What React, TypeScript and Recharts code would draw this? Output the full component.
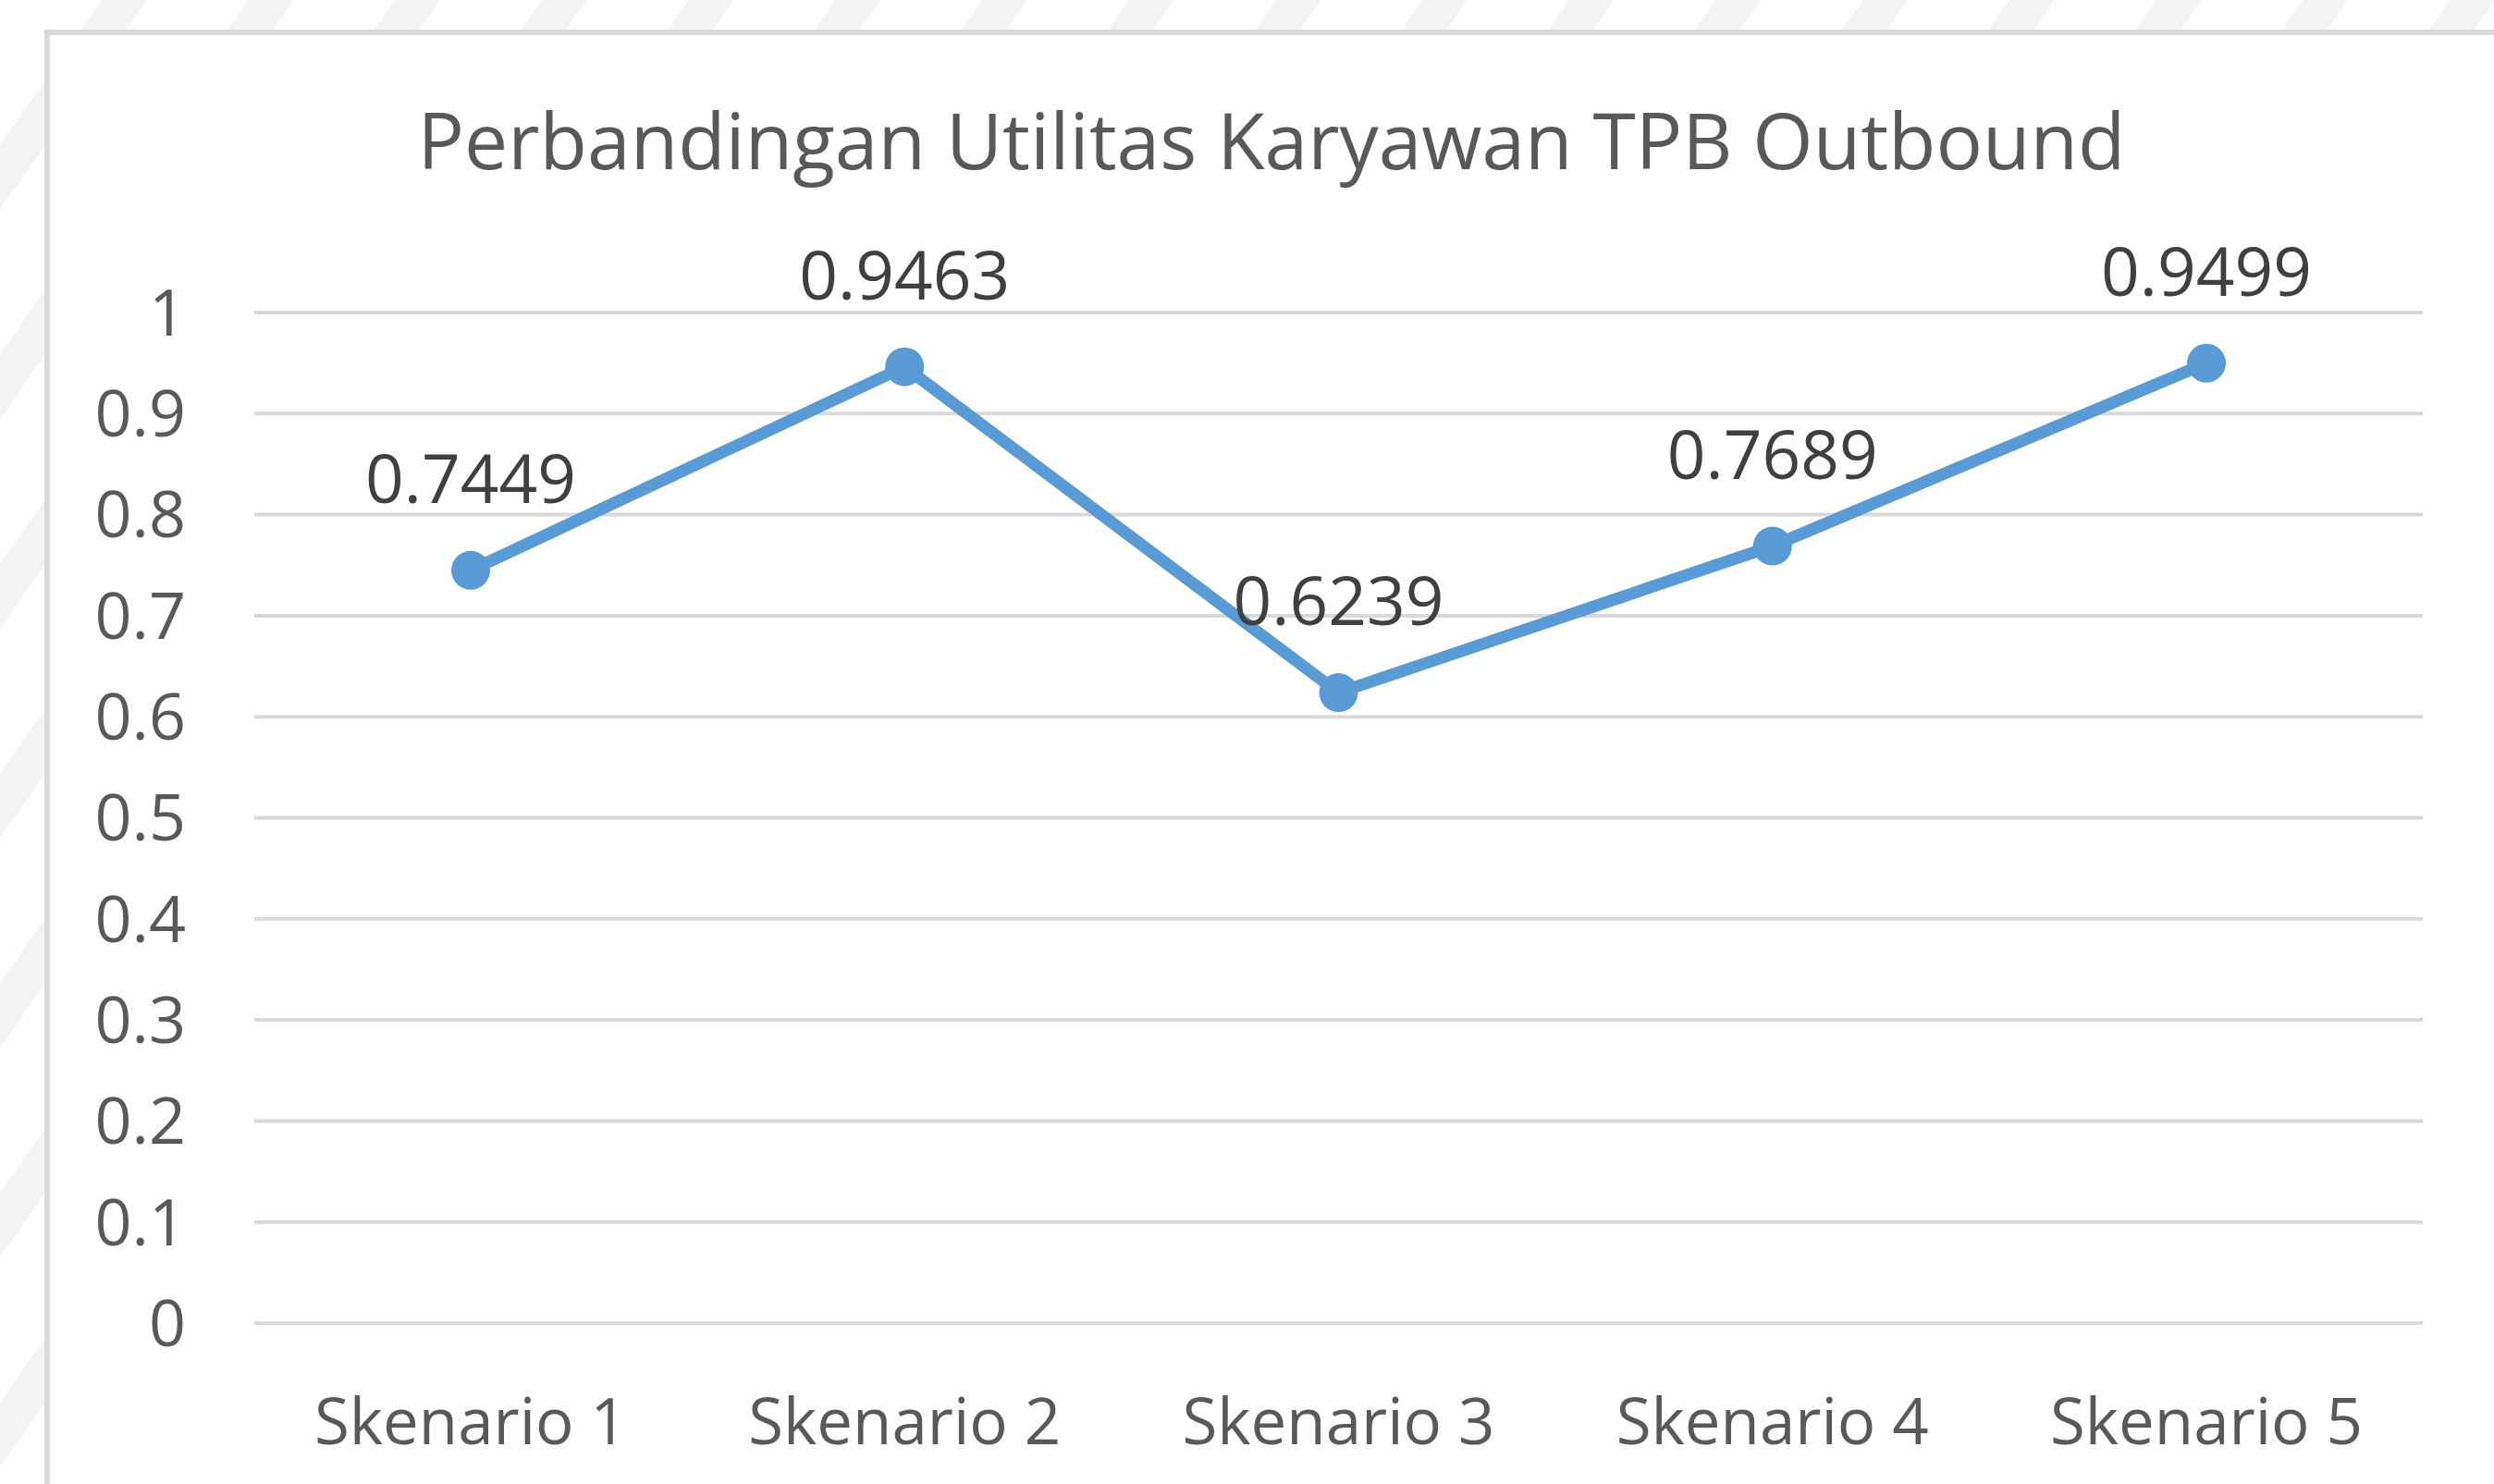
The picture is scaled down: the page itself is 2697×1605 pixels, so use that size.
import React from "react";
import {
  LineChart,
  Line,
  XAxis,
  YAxis,
  CartesianGrid,
  LabelList,
} from "recharts";

const categories = ["Skenario 1", "Skenario 2", "Skenario 3", "Skenario 4", "Skenario 5"];
const utilitas = [0.7449, 0.9463, 0.6239, 0.7689, 0.9499];
const yTicks = [0, 0.1, 0.2, 0.3, 0.4, 0.5, 0.6, 0.7, 0.8, 0.9, 1];
const title = "Perbandingan Utilitas Karyawan TPB Outbound";

const data = categories.map((name, i) => ({ name, value: utilitas[i] }));

const FONT = "'Open Sans', 'Noto Sans', sans-serif";

const App: React.FC = () => {
  return (
    <div
      style={{
        position: "absolute",
        left: 0,
        top: 0,
        width: 2697,
        height: 1605,
        overflow: "hidden",
        background:
          "repeating-linear-gradient(125deg, #ffffff 0px, #ffffff 90px, #f3f3f3 90px, #f3f3f3 130px)",
      }}
    >
      {/* white chart box, only left/top edges visible */}
      <div
        style={{
          position: "absolute",
          left: 48,
          top: 32,
          width: 2700,
          height: 1620,
          background: "#ffffff",
          borderLeft: "6px solid #d9d9d9",
          borderTop: "6px solid #d9d9d9",
        }}
      />
      <svg
        width={2697}
        height={220}
        style={{ position: "absolute", left: 0, top: 0 }}
      >
        <text
          x={1375}
          y={183}
          textAnchor="middle"
          fontFamily={FONT}
          fontSize={84}
          fill="#595959"
        >
          {title}
        </text>
      </svg>
      <div style={{ position: "absolute", left: 0, top: 0 }}>
        <LineChart
          width={2697}
          height={1605}
          data={data}
          margin={{ top: 338, right: 77, bottom: 24, left: 75 }}
          style={{ fontFamily: FONT }}
        >
          <CartesianGrid vertical={false} stroke="#d9d9d9" strokeWidth={4} />
          <XAxis
            dataKey="name"
            axisLine={false}
            tickLine={false}
            tickSize={0}
            tickMargin={82}
            height={150}
            padding={{ left: 234, right: 234 }}
            tick={{ fontSize: 69, fill: "#595959", fontFamily: FONT }}
            interval={0}
          />
          <YAxis
            domain={[0, 1]}
            ticks={yTicks}
            width={200}
            axisLine={false}
            tickLine={false}
            tickSize={0}
            tickMargin={74}
            tick={{ fontSize: 70, fill: "#595959", fontFamily: FONT }}
            tickFormatter={(v: number) => String(v)}
          />
          <Line
            type="linear"
            dataKey="value"
            stroke="#5b9bd5"
            strokeWidth={13}
            dot={{ r: 21, fill: "#5b9bd5", stroke: "#5b9bd5", strokeWidth: 0 }}
            activeDot={false}
            isAnimationActive={false}
          >
            <LabelList
              dataKey="value"
              position="top"
              offset={73}
              fill="#404040"
              fontSize={73}
              fontFamily={FONT}
              formatter={(v: number) => v.toFixed(4)}
            />
          </Line>
        </LineChart>
      </div>
    </div>
  );
};

export default App;
